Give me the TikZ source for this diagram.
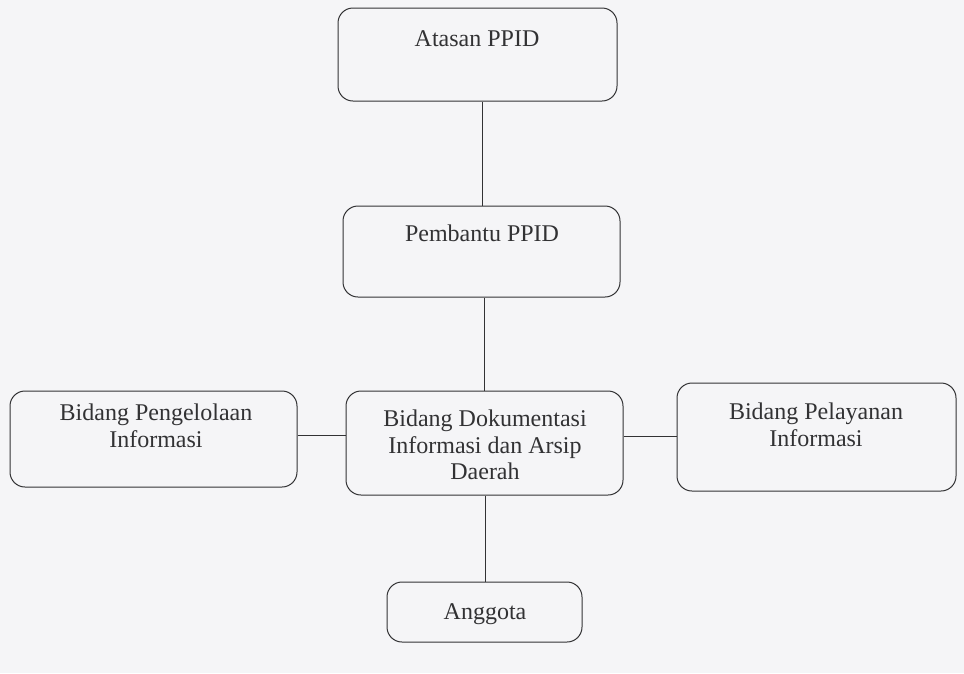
\documentclass[tikz,border=0pt]{standalone}
\usepackage{fontspec}
\setmainfont{Liberation Serif}
\definecolor{paper}{RGB}{245,245,247}
\definecolor{ink}{RGB}{50,50,52}
\begin{document}
\begin{tikzpicture}[x=1pt,y=-1pt,
  box/.style={draw=ink,line width=1pt,rounded corners=15pt,inner sep=0pt},
  lbl/.style={anchor=north,inner sep=0pt,align=center,text=ink,
    font=\fontsize{24}{26.5}\selectfont},
  link/.style={draw=ink,line width=1pt}]
\path[fill=paper] (0,0) rectangle (964,673);
\useasboundingbox (0,0) rectangle (964,673);
% boxes
\node[box,minimum width=279pt,minimum height=93pt] (atasan) at (477.5,54.5) {};
\node[box,minimum width=277pt,minimum height=91pt] (pembantu) at (481.5,251.5) {};
\node[box,minimum width=277pt,minimum height=104pt] (dok) at (484.5,443) {};
\node[box,minimum width=287pt,minimum height=96pt] (kelola) at (153.5,439) {};
\node[box,minimum width=279pt,minimum height=108pt] (layan) at (816.5,437) {};
\node[box,minimum width=195pt,minimum height=60pt] (anggota) at (484.5,612) {};
% texts
\node[lbl] (atasanT) at (477,30) {Atasan PPID};
\node[lbl] (pembantuT) at (482,225) {Pembantu PPID};
\node[lbl] (dokT) at (485,410) {Bidang Dokumentasi\\Informasi dan Arsip\\Daerah};
\node[lbl] (kelolaT) at (156,404) {Bidang Pengelolaan\\Informasi};
\node[lbl] (layanT) at (816,403) {Bidang Pelayanan\\Informasi};
\node[lbl] (anggotaT) at (485,603) {Anggota};
% connectors
\draw[link] (482,0 |- atasan.south) -- (482,0 |- pembantu.north);
\draw[link] (484,0 |- pembantu.south) -- (484,0 |- dok.north);
\draw[link] (485,0 |- dok.south) -- (485,0 |- anggota.north);
\draw[link] (kelola.east |- 0,435) -- (dok.west |- 0,435);
\draw[link] (dok.east |- 0,436) -- (layan.west |- 0,436);
\end{tikzpicture}
\end{document}
